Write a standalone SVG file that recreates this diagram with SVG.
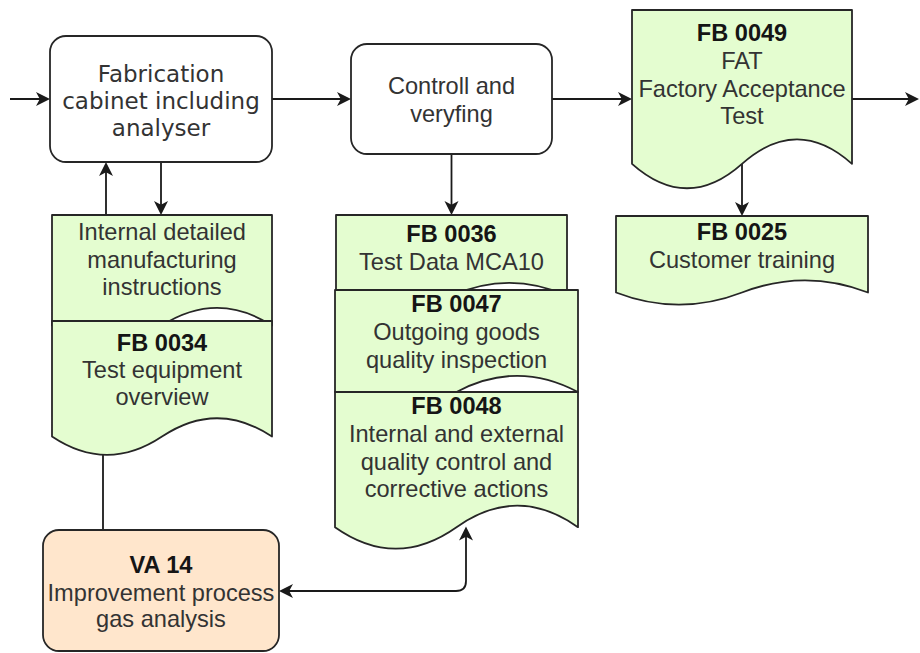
<svg xmlns="http://www.w3.org/2000/svg" width="920" height="653" viewBox="0 0 920 653">
  <style>
    .proc { fill: #ffffff; stroke: #262626; stroke-width: 1.8; }
    .doc { fill: #e4fdd0; stroke: #262626; stroke-width: 1.8; stroke-linejoin: round; }
    .va { fill: #ffe6cc; stroke: #262626; stroke-width: 1.8; }
    .edge { fill: none; stroke: #1a1a1a; stroke-width: 1.8; }
    text { font-family: "Liberation Sans", Arial, sans-serif; font-size: 23.6px; fill: #333333; text-anchor: middle; }
    .b { font-weight: bold; fill: #151515; }
    .dv { font-family: "DejaVu Sans", Verdana, sans-serif; font-size: 23px; }
  </style>
  <defs>
    <marker id="arrow" markerUnits="userSpaceOnUse" markerWidth="18" markerHeight="18" viewBox="0 0 18 18" refX="11" refY="9" orient="auto-start-reverse">
      <path d="M15,9 L1,2 L4.8,9 L1,16 Z" fill="#1a1a1a"/>
    </marker>
  </defs>

  <!-- connectors (drawn below the shapes) -->
  <g id="connectors">
    <path class="edge" d="M10,99 H46" marker-end="url(#arrow)"/>
    <path class="edge" d="M272,99 H347" marker-end="url(#arrow)"/>
    <path class="edge" d="M552,99 H628" marker-end="url(#arrow)"/>
    <path class="edge" d="M852,99 H915" marker-end="url(#arrow)"/>
    <path class="edge" d="M161,162 V211" marker-end="url(#arrow)"/>
    <path class="edge" d="M451.5,154 V211" marker-end="url(#arrow)"/>
    <path class="edge" d="M742,164 V212" marker-end="url(#arrow)"/>
    <path class="edge" d="M103,530 V300 H106 V166" marker-end="url(#arrow)"/>
    <path class="edge" d="M283,591 H456 Q466,591 466,581 V530.5" marker-start="url(#arrow)" marker-end="url(#arrow)"/>
  </g>

  <g id="fabrication">
    <rect class="proc" x="50" y="36" width="222" height="126" rx="16" ry="16"/>
    <text class="dv" x="161" y="82">Fabrication</text>
    <text class="dv" x="161" y="109">cabinet including</text>
    <text class="dv" x="161" y="136">analyser</text>
  </g>

  <g id="controll">
    <rect class="proc" x="351" y="44" width="201" height="110" rx="16" ry="16"/>
    <text x="451.5" y="94">Controll and</text>
    <text x="451.5" y="122">veryfing</text>
  </g>

  <g id="fb0049">
    <path class="doc" d="M632,10 L852,10 L852,163.85 Q797,114.98 742,163.85 Q687,212.72 632,163.85 Z"/>
    <text class="b" x="742" y="41">FB 0049</text>
    <text x="742" y="69">FAT</text>
    <text x="742" y="97">Factory Acceptance</text>
    <text x="742" y="124">Test</text>
  </g>

  <g id="fb0025">
    <path class="doc" d="M616,216 L868,216 L868,292.5 Q805,268.2 742,292.5 Q679,316.8 616,292.5 Z"/>
    <text class="b" x="742" y="240">FB 0025</text>
    <text x="742" y="268">Customer training</text>
  </g>

  <g id="internal-instructions">
    <path class="doc" d="M52,215 L272,215 L272,325.5 Q217,290.4 162,325.5 Q107,360.6 52,325.5 Z"/>
    <text x="162" y="240">Internal detailed</text>
    <text x="162" y="268">manufacturing</text>
    <text x="162" y="295">instructions</text>
  </g>

  <g id="fb0034">
    <path class="doc" d="M52,321 L272,321 L272,436.6 Q217,399.9 162,436.6 Q107,473.3 52,436.6 Z"/>
    <text class="b" x="162" y="351">FB 0034</text>
    <text x="162" y="378">Test equipment</text>
    <text x="162" y="405">overview</text>
  </g>

  <g id="fb0036">
    <path class="doc" d="M336,215 L567,215 L567,295.75 Q509.25,270.1 451.5,295.75 Q393.75,321.4 336,295.75 Z"/>
    <text class="b" x="451.5" y="242">FB 0036</text>
    <text x="451.5" y="270">Test Data MCA10</text>
  </g>

  <g id="fb0047">
    <path class="doc" d="M335,290 L578,290 L578,392 Q517.25,359.6 456.5,392 Q395.75,424.4 335,392 Z"/>
    <text class="b" x="456.5" y="312">FB 0047</text>
    <text x="456.5" y="340">Outgoing goods</text>
    <text x="456.5" y="368">quality inspection</text>
  </g>

  <g id="fb0048">
    <path class="doc" d="M335,392 L578,392 L578,527.15 Q517.25,484.2 456.5,527.15 Q395.75,570.1 335,527.15 Z"/>
    <text class="b" x="456.5" y="414">FB 0048</text>
    <text x="456.5" y="442">Internal and external</text>
    <text x="456.5" y="470">quality control and</text>
    <text x="456.5" y="497">corrective actions</text>
  </g>

  <g id="va14">
    <rect class="va" x="43" y="530" width="236" height="121" rx="16" ry="16"/>
    <text class="b" x="161" y="573">VA 14</text>
    <text x="161" y="601">Improvement process</text>
    <text x="161" y="627">gas analysis</text>
  </g>
</svg>
